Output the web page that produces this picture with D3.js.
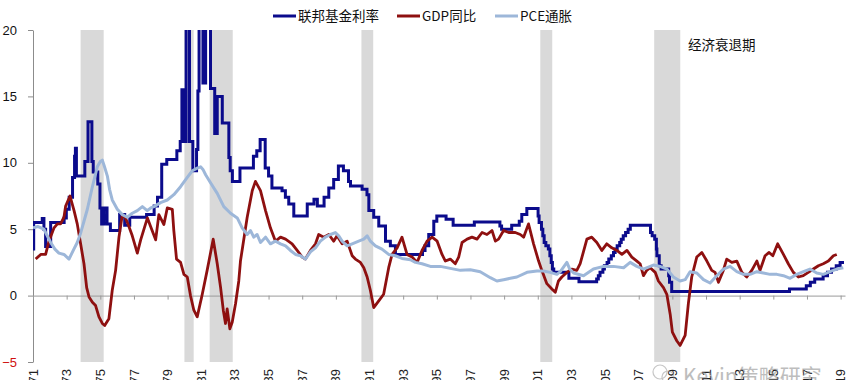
<!DOCTYPE html>
<html><head><meta charset="utf-8">
<script src="https://cdn.jsdelivr.net/npm/d3@7/dist/d3.min.js"></script>
<style>body{margin:0;background:#fff;} svg{display:block;}</style>
</head><body><svg id="c" width="848" height="380"></svg>
<script>
// ---- data (decimal year, percent) ----
const seriesNames = ["联邦基金利率", "GDP同比", "PCE通胀"];
const fedPoints = [[1971.00,3.5],[1971.04,5.5],[1971.55,5.8],[1971.65,5.0],[1971.75,3.7],[1972.05,5.5],[1972.85,5.85],[1972.98,6.5],[1973.15,7.4],[1973.35,8.9],[1973.47,10.5],[1973.52,11.1],[1973.58,9.0],[1974.08,10.1],[1974.27,13.1],[1974.5,10.1],[1974.58,9.3],[1974.85,8.4],[1974.98,6.6],[1975.08,5.4],[1975.22,6.6],[1975.4,5.4],[1975.6,4.9],[1976.15,6.1],[1976.45,5.3],[1976.75,5.9],[1977.75,6.1],[1978.2,6.75],[1978.4,7.4],[1978.65,9.9],[1978.95,10.25],[1979.55,10.9],[1979.75,11.6],[1979.85,15.5],[1980.0,11.6],[1980.1,21],[1980.3,11.6],[1980.5,9.4],[1980.72,11.0],[1980.8,15.4],[1980.87,21],[1981.1,16.0],[1981.26,21],[1981.55,15.6],[1981.8,12.2],[1981.95,15.0],[1982.25,13.0],[1982.64,10.4],[1982.72,9.4],[1982.85,8.6],[1983.3,9.6],[1984.1,10.5],[1984.3,10.9],[1984.5,11.75],[1984.8,9.6],[1985.0,9.0],[1985.2,8.1],[1985.8,7.9],[1986.0,7.4],[1986.2,6.9],[1986.5,6.0],[1987.3,6.9],[1987.7,7.25],[1987.9,6.75],[1988.3,7.4],[1988.58,8.1],[1988.87,8.75],[1989.15,9.75],[1989.45,9.4],[1989.75,8.6],[1989.87,8.25],[1990.56,8.0],[1990.85,7.6],[1990.96,6.4],[1991.25,5.9],[1991.55,5.25],[1991.95,4.1],[1992.24,3.75],[1992.54,3.1],[1994.15,3.4],[1994.3,3.75],[1994.52,4.6],[1994.82,5.6],[1995.0,6.0],[1995.55,5.75],[1995.97,5.3],[1997.23,5.55],[1998.75,5.25],[1998.85,5.0],[1999.45,5.3],[1999.9,5.6],[2000.05,6.1],[2000.35,6.55],[2001.02,6.0],[2001.08,5.5],[2001.22,5.0],[2001.3,4.5],[2001.38,4.0],[2001.48,3.75],[2001.63,3.5],[2001.72,3.0],[2001.8,2.5],[2001.87,2.0],[2001.95,1.75],[2002.85,1.3],[2003.45,1.05],[2004.5,1.25],[2004.6,1.5],[2004.7,1.75],[2004.87,2.0],[2004.96,2.25],[2005.12,2.5],[2005.22,2.75],[2005.37,3.0],[2005.5,3.25],[2005.6,3.5],[2005.72,3.75],[2005.87,4.0],[2005.96,4.25],[2006.08,4.5],[2006.22,4.75],[2006.37,5.0],[2006.5,5.3],[2007.7,4.75],[2007.8,4.5],[2007.95,4.25],[2008.05,3.5],[2008.08,3.0],[2008.22,2.25],[2008.33,2.0],[2008.78,1.5],[2008.83,1.0],[2008.96,0.3],[2015.96,0.5],[2016.96,0.75],[2017.2,1.0],[2017.46,1.25],[2017.96,1.5],[2018.22,1.75],[2018.46,2.0],[2018.74,2.25],[2018.97,2.5],[2019.2,2.5]];
const gdpPoints = [[1971.16,2.75],[1971.46,3.1],[1971.75,3.1],[1971.95,4.1],[1972.25,5.1],[1972.45,5.4],[1972.64,5.4],[1972.84,5.9],[1972.94,6.75],[1973.2,7.5],[1973.44,6.4],[1973.63,5.4],[1973.83,3.9],[1974.03,2.4],[1974.19,0.6],[1974.33,-0.1],[1974.53,-0.5],[1974.72,-0.75],[1974.92,-1.6],[1975.12,-2.1],[1975.26,-2.25],[1975.51,-1.75],[1975.71,0.4],[1975.91,1.9],[1976.11,4.4],[1976.31,6.1],[1976.5,5.85],[1976.7,5.2],[1976.9,4.5],[1977.2,3.2],[1977.4,4.2],[1977.8,5.85],[1977.99,5.2],[1978.29,4.2],[1978.48,6.1],[1978.78,5.35],[1978.98,6.6],[1979.28,6.5],[1979.37,4.9],[1979.53,2.75],[1979.77,2.5],[1979.97,1.6],[1980.17,1.4],[1980.36,0],[1980.56,-1.1],[1980.76,-1.6],[1981.06,0.1],[1981.35,1.9],[1981.71,4.25],[1981.95,2.4],[1982.15,0.6],[1982.31,-1.1],[1982.44,-2.1],[1982.54,-1.0],[1982.7,-2.5],[1982.84,-2.0],[1983.04,-0.6],[1983.23,1.1],[1983.33,2.6],[1983.73,5.9],[1984.03,7.9],[1984.22,8.6],[1984.52,7.9],[1984.82,6.4],[1985.11,5.1],[1985.41,4.1],[1985.71,4.4],[1986.01,4.25],[1986.4,3.9],[1986.7,3.4],[1987.0,2.9],[1987.19,2.75],[1987.49,3.4],[1987.79,3.9],[1987.98,4.6],[1988.28,4.4],[1988.58,4.6],[1988.87,4.1],[1989.07,4.5],[1989.37,3.9],[1989.67,4.1],[1989.97,3.0],[1990.16,2.75],[1990.46,2.5],[1990.66,2.1],[1990.86,1.4],[1991.05,0.4],[1991.25,-0.9],[1991.55,-0.4],[1991.84,0.1],[1992.14,2.1],[1992.34,3.1],[1992.64,3.6],[1992.93,4.4],[1993.23,3.1],[1993.53,2.9],[1993.83,2.5],[1994.12,3.4],[1994.42,4.1],[1994.72,4.4],[1995.02,4.1],[1995.31,3.1],[1995.51,2.6],[1995.8,2.75],[1996.1,2.4],[1996.3,2.9],[1996.5,4.0],[1996.8,4.25],[1997.09,4.4],[1997.39,4.25],[1997.69,4.75],[1997.98,4.6],[1998.28,4.9],[1998.48,4.1],[1998.67,4.25],[1998.97,4.9],[1999.27,4.75],[1999.66,4.75],[1999.96,4.6],[2000.16,4.4],[2000.45,5.4],[2000.75,3.9],[2001.05,2.6],[2001.24,1.9],[2001.54,0.9],[2001.84,0.5],[2002.04,0.25],[2002.23,1.1],[2002.43,1.4],[2002.73,1.75],[2003.02,2.0],[2003.32,1.9],[2003.52,2.4],[2003.92,4.25],[2004.21,4.4],[2004.51,4.0],[2004.81,3.4],[2005.1,3.9],[2005.4,3.6],[2005.7,3.4],[2006.0,3.1],[2006.3,3.4],[2006.59,2.9],[2006.89,2.6],[2007.08,2.4],[2007.28,1.5],[2007.48,1.9],[2007.68,2.1],[2007.98,1.75],[2008.17,1.1],[2008.47,0.6],[2008.67,0.1],[2008.87,-1.4],[2009.0,-2.75],[2009.26,-3.4],[2009.46,-3.75],[2009.76,-3.0],[2009.95,-0.6],[2010.15,1.4],[2010.45,2.9],[2010.75,3.25],[2011.05,2.6],[2011.34,1.9],[2011.54,1.75],[2011.74,1.0],[2012.03,1.9],[2012.23,2.75],[2012.53,2.5],[2012.83,2.6],[2013.13,1.75],[2013.42,1.4],[2013.72,1.9],[2014.02,2.6],[2014.21,1.9],[2014.51,3.0],[2014.75,3.25],[2014.97,3.0],[2015.26,3.9],[2015.6,3.1],[2015.89,2.4],[2016.19,1.75],[2016.49,1.4],[2016.78,1.5],[2017.08,1.75],[2017.38,2.0],[2017.68,2.25],[2017.97,2.4],[2018.27,2.6],[2018.57,3.0],[2018.77,3.1]];
const pcePoints = [[1971.0,5.1],[1971.3,5.2],[1971.65,5.0],[1972.05,4.0],[1972.3,3.5],[1972.54,3.2],[1972.84,3.1],[1973.14,2.75],[1973.43,3.5],[1973.63,4.0],[1973.83,4.7],[1974.03,5.6],[1974.23,6.5],[1974.53,8.2],[1974.82,9.7],[1975.0,10.1],[1975.12,10.2],[1975.25,9.7],[1975.42,9.0],[1975.55,8.0],[1975.71,7.2],[1976.01,6.5],[1976.31,6.1],[1976.6,5.9],[1976.9,6.2],[1977.2,6.4],[1977.5,6.7],[1977.79,6.4],[1978.0,6.6],[1978.19,6.7],[1978.58,7.0],[1978.98,7.2],[1979.37,7.6],[1979.77,8.2],[1980.17,8.9],[1980.47,9.4],[1980.76,9.6],[1980.96,9.7],[1981.1,9.5],[1981.26,9.1],[1981.55,8.5],[1981.95,7.7],[1982.34,6.7],[1982.74,6.2],[1983.14,5.85],[1983.43,5.1],[1983.73,4.6],[1983.93,4.9],[1984.12,4.4],[1984.32,4.6],[1984.52,4.0],[1984.82,4.4],[1985.11,3.9],[1985.41,4.1],[1985.71,3.9],[1986.01,3.75],[1986.3,3.4],[1986.6,3.1],[1986.9,3.0],[1987.19,2.75],[1987.49,3.3],[1987.79,3.6],[1988.08,4.1],[1988.38,4.4],[1988.68,4.6],[1988.97,4.75],[1989.17,4.5],[1989.37,4.1],[1989.67,3.75],[1989.97,3.9],[1990.36,4.1],[1990.66,4.25],[1990.86,4.5],[1991.05,4.1],[1991.35,3.75],[1991.74,3.5],[1992.14,3.1],[1992.54,3.0],[1992.93,2.8],[1993.43,2.7],[1993.73,2.5],[1994.12,2.4],[1994.62,2.2],[1995.21,2.2],[1995.8,2.05],[1996.4,1.9],[1996.99,1.95],[1997.58,1.8],[1998.18,1.35],[1998.57,1.1],[1998.97,1.2],[1999.37,1.3],[1999.76,1.4],[2000.36,1.75],[2000.95,1.85],[2001.34,1.85],[2001.74,1.75],[2002.14,1.6],[2002.34,1.8],[2002.73,2.5],[2002.9,2.0],[2003.13,1.7],[2003.72,1.5],[2004.31,2.0],[2004.91,2.2],[2005.5,2.2],[2006.1,2.1],[2006.49,2.5],[2006.89,2.2],[2007.28,2.0],[2007.87,2.3],[2008.27,2.2],[2008.67,2.0],[2009.06,1.4],[2009.46,1.1],[2009.76,1.2],[2010.05,1.8],[2010.45,1.7],[2010.85,1.2],[2011.24,0.95],[2011.64,1.5],[2012.03,2.0],[2012.43,2.2],[2012.83,1.8],[2013.22,1.6],[2013.62,1.6],[2014.02,1.8],[2014.41,1.7],[2014.81,1.6],[2015.21,1.6],[2015.6,1.5],[2016.0,1.3],[2016.39,1.6],[2016.79,1.8],[2017.18,2.0],[2017.58,1.7],[2017.97,1.6],[2018.37,1.8],[2018.77,2.0],[2019.16,2.1]];
const recessionStart = [1973.83, 1980.0, 1981.5, 1990.52, 2001.15, 2007.92];
const recessionEnd   = [1975.2, 1980.55, 1982.87, 1991.22, 2001.86, 2009.47];
const yTicks = [-5, 0, 5, 10, 15, 20];
const xTickYears = d3.range(1971, 2020, 2);
const recessionLabel = "经济衰退期";
const watermark = "Kevin策略研究";

// ---- drawing ----
const svg = d3.select("#c");
const x = d3.scaleLinear().domain([1971, 2019.26]).range([33, 845]);
const y = d3.scaleLinear().domain([-5, 20]).range([362, 30]);
const colors = ["#0b0b8c", "#8e1010", "#9db7d9"];
const cjk = "'Noto Sans CJK SC', sans-serif";
const latin = "'Liberation Sans', Arial, sans-serif";

svg.append("defs").append("clipPath").attr("id","plot")
  .append("rect").attr("x", 33).attr("y", 30).attr("width", 812).attr("height", 332);

// recession shading
svg.append("g").selectAll("rect").data(recessionStart).join("rect")
  .attr("x", (d) => x(d))
  .attr("width", (d, i) => x(recessionEnd[i]) - x(d))
  .attr("y", y(20)).attr("height", y(-5) - y(20))
  .attr("fill", "#d9d9d9");

// y axis
const yAxis = svg.append("g").attr("transform", "translate(33,0)")
  .call(d3.axisLeft(y).tickValues(yTicks).tickSize(5).tickSizeOuter(0).tickPadding(11));
yAxis.select(".domain").attr("stroke", "#8c8c8c");
yAxis.selectAll(".tick line").attr("stroke", "#8c8c8c");
yAxis.selectAll(".tick text")
  .attr("font-family", latin).attr("font-size", 13)
  .attr("fill", (d) => d < 0 ? "#d01010" : "#111");

// x axis on zero line
const xAxis = svg.append("g").attr("transform", `translate(0,${y(0)})`)
  .call(d3.axisBottom(x).tickValues(xTickYears).tickSize(4).tickSizeOuter(0).tickFormat(""));
xAxis.select(".domain").attr("stroke", "#9a9a9a");
xAxis.selectAll(".tick line").attr("stroke", "#9a9a9a");

// x labels (low position, rotated; the reference crops them at the bottom edge)
svg.append("g").selectAll("text").data(xTickYears).join("text")
  .attr("transform", (d) => `translate(${x(d)},369) rotate(-90)`)
  .attr("dy", "0.35em").attr("text-anchor", "end")
  .attr("font-family", latin).attr("font-size", 13).attr("fill", "#222")
  .text((d) => String(d));

// lines
const plot = svg.append("g").attr("clip-path", "url(#plot)");
const lineStep = d3.line().x((d) => x(d[0])).y((d) => y(d[1])).curve(d3.curveStepAfter);
const lineLin = d3.line().x((d) => x(d[0])).y((d) => y(d[1]));
plot.append("path").datum(fedPoints).attr("d", lineStep)
  .attr("fill", "none").attr("stroke", colors[0]).attr("stroke-width", 3).attr("stroke-linejoin", "miter");
plot.append("path").datum(gdpPoints).attr("d", lineLin)
  .attr("fill", "none").attr("stroke", colors[1]).attr("stroke-width", 2.8).attr("stroke-linejoin", "round");
plot.append("path").datum(pcePoints).attr("d", lineLin)
  .attr("fill", "none").attr("stroke", colors[2]).attr("stroke-width", 3).attr("stroke-linejoin", "round");

// legend
const legendX = [273, 397, 495];
const leg = svg.append("g").selectAll("g").data(seriesNames).join("g")
  .attr("transform", (d, i) => `translate(${legendX[i]},16)`);
leg.append("line").attr("x1", 0).attr("x2", 23).attr("y1", 0).attr("y2", 0)
  .attr("stroke", (d, i) => colors[i]).attr("stroke-width", 3);
leg.append("text").attr("x", 25).attr("dy", "0.35em")
  .attr("font-family", cjk).attr("font-size", 13.5).attr("fill", "#111")
  .text((d) => d);

// recession label
svg.append("text").attr("x", 688).attr("y", 45).attr("dy", "0.35em")
  .attr("font-family", cjk).attr("font-size", 13.5).attr("fill", "#111")
  .text(recessionLabel);

// watermark
const wm = svg.append("g").attr("opacity", 0.55);
wm.append("circle").attr("cx", 660).attr("cy", 372).attr("r", 7).attr("fill", "none").attr("stroke", "#999").attr("stroke-width", 1.2);
wm.append("circle").attr("cx", 668).attr("cy", 377).attr("r", 6).attr("fill", "none").attr("stroke", "#999").attr("stroke-width", 1.2);
wm.append("text").attr("x", 683).attr("y", 384)
  .attr("font-family", cjk).attr("font-size", 21).attr("fill", "#888")
  .text(watermark);
</script></body></html>
